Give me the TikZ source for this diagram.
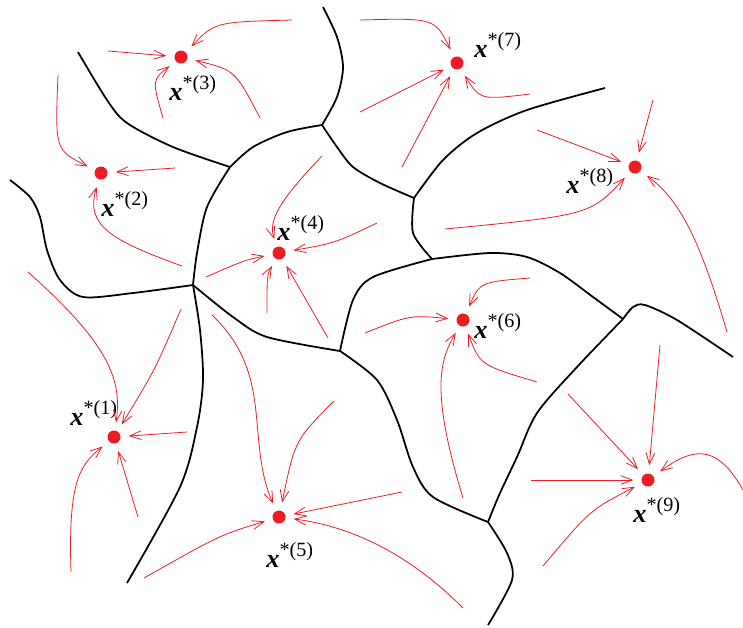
\documentclass[tikz,border=0pt]{standalone}
\usepackage{fontspec}
\setmainfont{Liberation Serif}
\usetikzlibrary{arrows.meta}
\definecolor{flowred}{RGB}{237,28,36}
\newcommand{\xsol}[1]{\textbf{\textit{x}}\raisebox{6pt}{\fontsize{11.5}{12}\selectfont *(#1)}}

\begin{document}
\begin{tikzpicture}[x=0.02cm, y=-0.02cm,
  edge/.style={line width=1pt, line join=round},
  dot/.style={circle, fill=flowred, inner sep=0pt, minimum size=7.4pt},
  flow/.style={draw=flowred, line width=0.45pt, -{Straight Barb[length=6.5pt,width=5pt]}, shorten >=4.5pt},
  lab/.style={anchor=base west, inner sep=0pt, font=\fontsize{15}{16}\selectfont}]
\useasboundingbox (0,0) rectangle (743,627);

% junctions of the cells
\coordinate (ja) at (322,125); \coordinate (jb) at (230,167);
\coordinate (jc) at (193,285); \coordinate (jd) at (340,351);
\coordinate (je) at (432,259); \coordinate (jf) at (414,198);
\coordinate (jg) at (623,319); \coordinate (jh) at (488,522);

% cell boundaries
\draw[edge] plot[smooth] coordinates {(323,7) (337,37) (343,67) (337,97) (ja)};
\draw[edge] plot[smooth] coordinates {(ja) (287,132) (253,147) (jb)};
\draw[edge] plot[smooth] coordinates {(jb) (173,147) (127,123) (107,100) (78,52)};
\draw[edge] plot[smooth] coordinates {(jb) (207,207) (197,253) (jc)};
\draw[edge] plot[smooth] coordinates {(jc) (133,293) (83,297) (60,280) (47,250) (40,217) (30,197) (10,180)};
\draw[edge] plot[smooth] coordinates {(jc) (200,330) (203,380) (197,427) (180,487) (127,583)};
\draw[edge] plot[smooth] coordinates {(jc) (233,317) (267,337) (jd)};
\draw[edge] plot[smooth] coordinates {(jd) (353,300) (373,277) (je)};
\draw[edge] plot[smooth] coordinates {(je) (413,233) (jf)};
\draw[edge] plot[smooth] coordinates {(jf) (380,183) (353,167) (337,147) (ja)};
\draw[edge] plot[smooth] coordinates {(jf) (443,160) (477,133) (527,110) (605,88)};
\draw[edge] plot[smooth] coordinates {(je) (490,253) (527,257) (560,273) (593,297) (jg)};
\draw[edge] plot[smooth] coordinates {(jg) (633,307) (645,305) (677,320) (733,357)};
\draw[edge] plot[smooth] coordinates {(jg) (577,367) (537,413) (517,457) (500,493) (jh)};
\draw[edge] plot[smooth] coordinates {(jd) (377,380) (397,420) (413,467) (433,497) (jh)};
\draw[edge] plot[smooth] coordinates {(jh) (507,553) (512,580) (488,625)};

% attractors
\node[dot] (d1) at (114,437) {};
\node[dot] (d2) at (101,173) {};
\node[dot] (d3) at (181,57) {};
\node[dot] (d4) at (279,253) {};
\node[dot] (d5) at (279,517) {};
\node[dot] (d6) at (463,320) {};
\node[dot] (d7) at (457,63) {};
\node[dot] (d8) at (635,167) {};
\node[dot] (d9) at (648,480) {};

\node[lab] (l1) at (70,425) {\xsol{1}};
\node[lab] (l2) at (101,216) {\xsol{2}};
\node[lab] (l3) at (169,100) {\xsol{3}};
\node[lab] (l4) at (277,240) {\xsol{4}};
\node[lab] (l5) at (266,567) {\xsol{5}};
\node[lab] (l6) at (474,338) {\xsol{6}};
\node[lab] (l7) at (474,57) {\xsol{7}};
\node[lab] (l8) at (566,193) {\xsol{8}};
\node[lab] (l9) at (633,522) {\xsol{9}};

% trajectories
\draw[flow] (28,272) coordinate (s11) .. controls (110,345) and (122,380) .. (d1);
\draw[flow] (181,309) coordinate (s12) .. controls (155,370) .. (d1);
\draw[flow] (187,432) coordinate (s13) -- (d1);
\draw[flow] (138,517) coordinate (s14) -- (d1);
\draw[flow] (71,572) coordinate (s15) .. controls (68,480) and (80,465) .. (d1);

\draw[flow] (58,75) coordinate (s21) .. controls (55,150) .. (d2);
\draw[flow] (175,168) coordinate (s22) -- (d2);
\draw[flow] (182,266) coordinate (s23) .. controls (110,240) and (85,225) .. (d2);

\draw[flow] (292,20) coordinate (s31) .. controls (215,22) .. (d3);
\draw[flow] (108,51) coordinate (s32) -- (d3);
\draw[flow] (163,118) coordinate (s33) .. controls (152,80) .. (d3);
\draw[flow] (260,118) coordinate (s34) .. controls (235,70) .. (d3);

\draw[flow] (322,156) coordinate (s41) .. controls (280,200) and (268,220) .. (d4);
\draw[flow] (377,223) coordinate (s42) .. controls (335,243) .. (d4);
\draw[flow] (206,277) coordinate (s43) .. controls (245,260) .. (d4);
\draw[flow] (267,313) coordinate (s44) .. controls (267,275) .. (d4);
\draw[flow] (328,338) coordinate (s45) -- (d4);

\draw[flow] (212,315) coordinate (s51) .. controls (275,375) and (245,440) .. (d5);
\draw[flow] (334,401) coordinate (s52) .. controls (295,440) .. (d5);
\draw[flow] (402,492) coordinate (s53) -- (d5);
\draw[flow] (463,608) coordinate (s54) .. controls (400,545) and (340,525) .. (d5);
\draw[flow] (144,578) coordinate (s55) .. controls (220,535) .. (d5);

\draw[flow] (530,278) coordinate (s61) .. controls (480,282) .. (d6);
\draw[flow] (365,333) coordinate (s62) .. controls (410,315) .. (d6);
\draw[flow] (463,498) coordinate (s63) .. controls (430,390) and (440,360) .. (d6);
\draw[flow] (537,382) coordinate (s64) .. controls (480,365) .. (d6);

\draw[flow] (360,20) coordinate (s71) .. controls (435,18) .. (d7);
\draw[flow] (360,112) coordinate (s72) -- (d7);
\draw[flow] (402,167) coordinate (s73) -- (d7);
\draw[flow] (530,94) coordinate (s74) .. controls (480,100) .. (d7);

\draw[flow] (653,100) coordinate (s81) -- (d8);
\draw[flow] (537,130) coordinate (s82) -- (d8);
\draw[flow] (445,229) coordinate (s83) .. controls (590,215) .. (d8);
\draw[flow] (727,332) coordinate (s84) .. controls (700,240) and (680,200) .. (d8);

\draw[flow] (660,345) coordinate (s91) -- (d9);
\draw[flow] (568,394) coordinate (s92) -- (d9);
\draw[flow] (531,480) coordinate (s93) -- (d9);
\draw[flow] (543,566) coordinate (s94) .. controls (590,510) .. (d9);
\draw[flow] (743,490) coordinate (s95) .. controls (715,440) and (690,450) .. (d9);
\end{tikzpicture}
\end{document}
